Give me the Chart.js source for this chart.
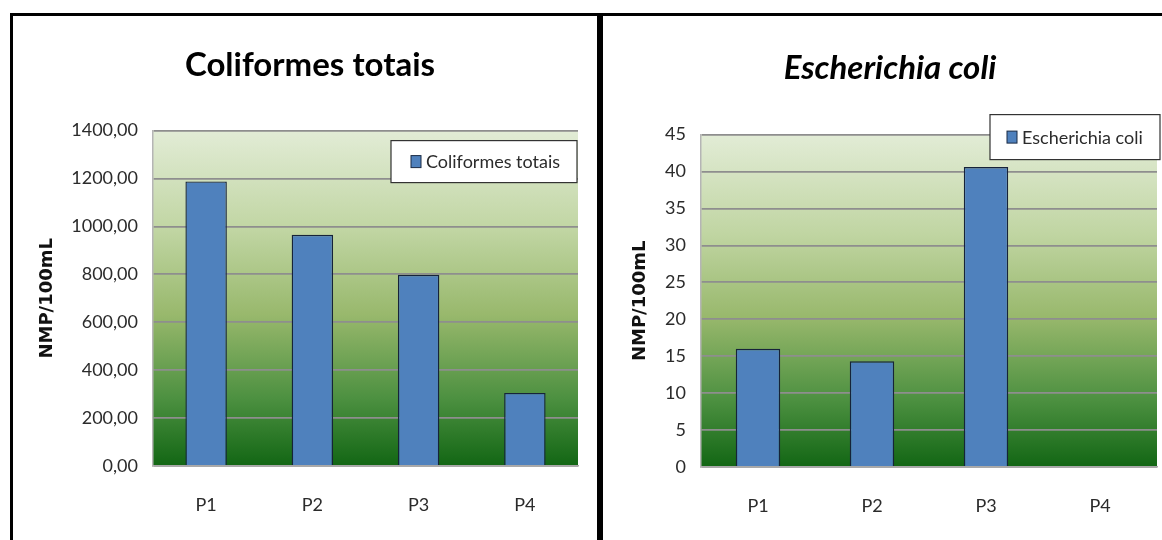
<!DOCTYPE html>
<html>
<head>
<meta charset="utf-8">
<script src="https://cdn.jsdelivr.net/npm/chart.js@4.4.1/dist/chart.umd.min.js"></script>
<style>
    body { margin: 0; background: #fff; width: 1162px; height: 540px; overflow: hidden; position: relative; }
    .panel { position: absolute; top: 13px; border-top: 3px solid #000; box-sizing: border-box; height: 540px; }
    #leftPanel { left: 10px; width: 590px; border-left: 3px solid #000; border-right: 3px solid #000; }
    #rightPanel { left: 600px; width: 565px; border-left: 3px solid #000; }
    canvas { display: block; }
</style>
</head>
<body>
<div class="panel" id="leftPanel"><canvas id="chartColi"></canvas></div>
<div class="panel" id="rightPanel"><canvas id="chartEcoli"></canvas></div>
<script>
const points = ['P1', 'P2', 'P3', 'P4'];

const coliformesTotais = [1188, 965, 798, 305];
const escherichiaColi = [16.0, 14.3, 40.6, 0];

const coliTicks = [0, 200, 400, 600, 800, 1000, 1200, 1400];
const ecoliTicks = [0, 5, 10, 15, 20, 25, 30, 35, 40, 45];

const FONT = 'Lato, "Open Sans", sans-serif';
const TEXT = '#2b2b2b';

// green gradient behind the plot area
const plotBackground = {
    id: 'plotBackground',
    beforeDraw(chart) {
        const {ctx, chartArea: a} = chart;
        const g = ctx.createLinearGradient(0, a.top, 0, a.bottom);
        g.addColorStop(0, '#e2ecd6');
        g.addColorStop(0.3, '#c0d5a2');
        g.addColorStop(0.55, '#98b86c');
        g.addColorStop(0.8, '#4c9040');
        g.addColorStop(1, '#126614');
        ctx.save();
        ctx.fillStyle = g;
        ctx.fillRect(a.left, a.top, a.right - a.left, a.bottom - a.top);
        ctx.restore();
    }
};

// Excel style legend box drawn inside the plot
const boxLegend = {
    id: 'boxLegend',
    afterDraw(chart, args, opts) {
        const {ctx, chartArea: a} = chart;
        const ds = chart.data.datasets[0];
        const x = a.right + opts.dx - opts.w;
        const y = a.top + opts.dy;
        ctx.save();
        ctx.fillStyle = '#fff';
        ctx.strokeStyle = '#333';
        ctx.lineWidth = 1.2;
        ctx.fillRect(x, y, opts.w, opts.h);
        ctx.strokeRect(x, y, opts.w, opts.h);
        const sx = x + opts.pad;
        const sy = y + opts.h / 2 - 6;
        ctx.fillStyle = ds.backgroundColor;
        ctx.fillRect(sx, sy, 10, 12);
        ctx.strokeStyle = '#1a2a44';
        ctx.lineWidth = 1;
        ctx.strokeRect(sx, sy, 10, 12);
        ctx.fillStyle = TEXT;
        ctx.font = '18px ' + FONT;
        ctx.textBaseline = 'middle';
        ctx.fillText(ds.label, sx + 15, y + opts.h / 2 + 1);
        ctx.restore();
    }
};

function makeConfig(title, italic, label, values, ticks, leftPad, yWidth, rightGap, xHeight, titlePad, yTitlePad, legendOpts, decimals) {
    return {
        type: 'bar',
        data: {
            labels: points,
            datasets: [{
                label: label,
                data: values,
                backgroundColor: '#4f81bd',
                borderColor: '#16233a',
                borderWidth: 1.4,
                barPercentage: 0.39,
                categoryPercentage: 1,
            }]
        },
        options: {
            responsive: false,
            animation: false,
            layout: { padding: { left: leftPad } },
            plugins: {
                legend: { display: false },
                tooltip: { enabled: false },
                title: {
                    display: true,
                    text: title,
                    color: '#000',
                    font: { family: FONT, size: 33, weight: 'bold', style: italic ? 'italic' : 'normal' },
                    padding: titlePad
                },
                boxLegend: legendOpts
            },
            scales: {
                x: {
                    afterFit: s => { s.height = xHeight; },
                    grid: { display: false },
                    border: { color: '#a8a8a8', width: 1.5 },
                    ticks: { color: TEXT, font: { family: FONT, size: 18 }, padding: 20 }
                },
                y: {
                    min: ticks[0],
                    max: ticks[ticks.length - 1],
                    afterFit: s => { s.width = yWidth; },
                    afterBuildTicks: s => { s.ticks = ticks.map(v => ({value: v})); },
                    grid: { color: '#8e8e8e', lineWidth: 1.8, drawTicks: false },
                    border: { color: '#b5b5b5', width: 1.5 },
                    ticks: {
                        color: TEXT,
                        font: { family: FONT, size: 18 },
                        padding: 15,
                        callback: v => decimals ? v.toFixed(2).replace('.', ',') : String(v)
                    },
                    title: {
                        display: true,
                        text: 'NMP/100mL',
                        color: '#111',
                        font: { family: '"DejaVu Sans", sans-serif', size: 18, weight: 'bold' },
                        padding: yTitlePad
                    }
                },
                // empty axis that only keeps a margin on the right of the plot
                yGap: {
                    position: 'right',
                    afterFit: s => { s.width = rightGap; },
                    grid: { drawOnChartArea: false, drawTicks: false },
                    border: { display: false },
                    ticks: { display: false }
                }
            }
        },
        plugins: [plotBackground, boxLegend]
    };
}

const cv1 = document.getElementById('chartColi');
cv1.width = 584; cv1.height = 524;
const chartColi = new Chart(cv1, makeConfig(
    'Coliformes totais', false, 'Coliformes totais', coliformesTotais, coliTicks,
    10, 130, 19, 74, { top: 30, bottom: 45 }, { top: 14, bottom: 0 },
    { w: 186, h: 42, dx: -1, dy: 10, pad: 20 }, true
));

const cv2 = document.getElementById('chartEcoli');
cv2.width = 562; cv2.height = 524;
const chartEcoli = new Chart(cv2, makeConfig(
    'Escherichia coli', true, 'Escherichia coli', escherichiaColi, ecoliTicks,
    12, 86, 8, 73, { top: 33, bottom: 46 }, { top: 15, bottom: 0 },
    { w: 170, h: 45, dx: 3, dy: -20, pad: 17 }, false
));
</script>
</body>
</html>
